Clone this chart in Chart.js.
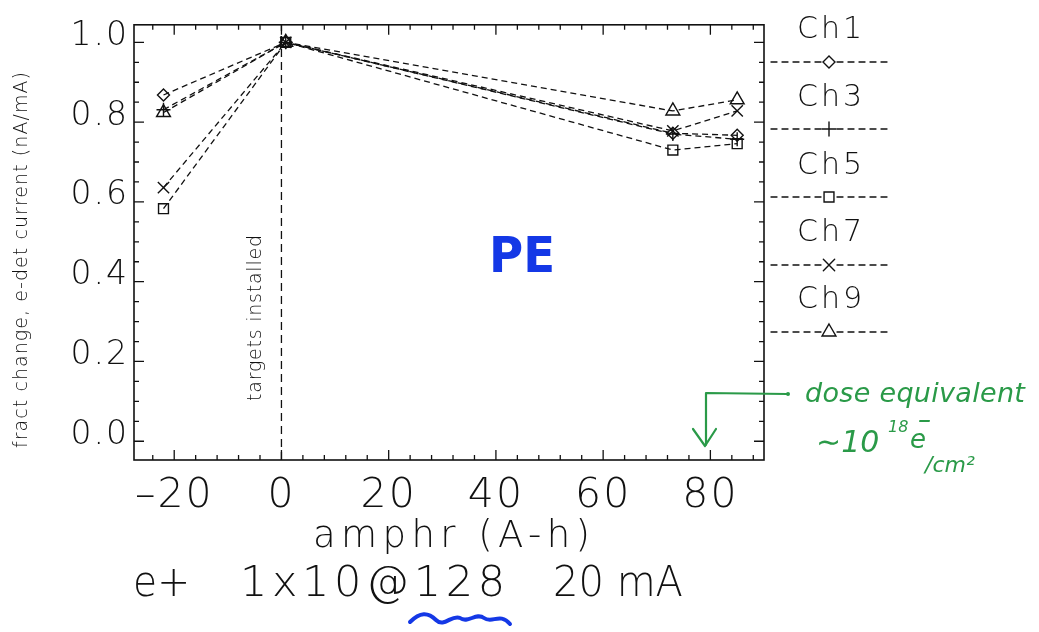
<!DOCTYPE html>
<html>
<head>
<meta charset="utf-8">
<script src="https://cdn.jsdelivr.net/npm/chart.js@4/dist/chart.umd.min.js"></script>
<style>
html,body{margin:0;padding:0;background:#fff;}
#c{display:block;}
</style>
</head>
<body>
<canvas id="c" width="1039" height="632"></canvas>
<script>
// ---- data ----
const amphr = [-22, 0.8, 73, 85];
const ch1 = [0.868, 1.0, 0.772, 0.767];
const ch3 = [0.831, 1.0, 0.770, 0.757];
const ch5 = [0.583, 1.0, 0.730, 0.746];
const ch7 = [0.636, 1.0, 0.778, 0.828];
const ch9 = [0.824, 1.0, 0.828, 0.856];
const seriesNames = ['Ch1', 'Ch3', 'Ch5', 'Ch7', 'Ch9'];
const xTickValues = [-20, 0, 20, 40, 60, 80];
const yTickValues = [0.0, 0.2, 0.4, 0.6, 0.8, 1.0];
const xTitle = 'amphr (A-h)';
const yTitle = 'fract change, e-det current (nA/mA)';
const footer = ['e+', '1x10@128', '20 mA'];
const markerNote = 'targets installed';
const bigNote = 'PE';
const doseNote = 'dose equivalent';

const styles = ['rectRot', 'cross', 'rect', 'crossRot', 'triangle'];
const radii = [6, 7, 7, 8, 8];
const allSeries = [ch1, ch3, ch5, ch7, ch9];
const FONT = "'DejaVu Sans', 'Liberation Sans', sans-serif";

const datasets = allSeries.map((s, i) => ({
  label: seriesNames[i],
  data: amphr.map((x, j) => ({x: x, y: s[j]})),
  borderColor: '#111',
  backgroundColor: 'rgba(0,0,0,0)',
  borderWidth: 1.3,
  borderDash: [6, 4],
  pointStyle: styles[i],
  pointRadius: radii[i],
  pointBorderWidth: 1.4,
  pointBorderColor: '#111',
  pointBackgroundColor: 'rgba(0,0,0,0)',
  tension: 0,
  fill: false
}));

// draw text stretched/compressed to a given width (left x, width)
function fitText(ctx, text, x, y, width) {
  ctx.letterSpacing = '0px';
  const w0 = ctx.measureText(text).width;
  const n = text.length;
  if (w0 < width && n > 1) {
    const ls = (width - w0) / (n - 1);
    ctx.letterSpacing = ls.toFixed(2) + 'px';
    ctx.fillText(text, x, y);
  } else {
    ctx.fillText(text, x, y, width);
  }
  ctx.letterSpacing = '0px';
}

const deco = {
  id: 'deco',
  beforeDraw(chart) {
    const ctx = chart.ctx;
    ctx.save();
    ctx.fillStyle = '#fff';
    ctx.fillRect(0, 0, chart.width, chart.height);
    ctx.restore();
    ctx.letterSpacing = '2px';
  },
  beforeDatasetsDraw(chart) {
    const ctx = chart.ctx;
    const xs = chart.scales.x;
    const a = chart.chartArea;
    ctx.save();
    ctx.letterSpacing = '0px';
    const x0 = xs.getPixelForValue(0);
    ctx.strokeStyle = '#111';
    ctx.lineWidth = 1.3;
    ctx.setLineDash([8, 5]);
    ctx.beginPath();
    ctx.moveTo(x0, a.bottom);
    ctx.lineTo(x0, a.top);
    ctx.stroke();
    ctx.setLineDash([]);
    ctx.restore();
  },
  afterDraw(chart) {
    const ctx = chart.ctx;
    const xs = chart.scales.x, ys = chart.scales.y;
    const a = chart.chartArea;
    ctx.save();
    ctx.letterSpacing = '0px';
    // frame
    ctx.strokeStyle = '#111';
    ctx.lineWidth = 1.6;
    ctx.strokeRect(a.left, a.top, a.right - a.left, a.bottom - a.top);
    // ticks (inward, mirrored)
    ctx.lineWidth = 1.3;
    ctx.beginPath();
    for (let v = -24; v <= 88; v += 4) {
      const p = xs.getPixelForValue(v);
      const len = (v % 20 === 0) ? 10 : 5;
      ctx.moveTo(p, a.bottom); ctx.lineTo(p, a.bottom - len);
      ctx.moveTo(p, a.top); ctx.lineTo(p, a.top + len);
    }
    for (let k = 0; k <= 20; k++) {
      const p = ys.getPixelForValue(k * 0.05);
      const len = (k % 4 === 0) ? 10 : 5;
      ctx.moveTo(a.left, p); ctx.lineTo(a.left + len, p);
      ctx.moveTo(a.right, p); ctx.lineTo(a.right - len, p);
    }
    ctx.stroke();

    // axis titles
    ctx.fillStyle = '#111';
    ctx.textBaseline = 'middle';
    ctx.textAlign = 'left';
    ctx.font = '300 37px ' + FONT;
    fitText(ctx, xTitle, 313, 537, 277);
    ctx.save();
    ctx.translate(22, 260);
    ctx.rotate(-Math.PI / 2);
    ctx.font = '300 19px ' + FONT;
    fitText(ctx, yTitle, -188, 0, 376);
    ctx.restore();

    // footer
    ctx.font = '300 43px ' + FONT;
    fitText(ctx, footer[0], 133, 585, 57);
    fitText(ctx, footer[1], 240, 585, 265);
    fitText(ctx, footer[2], 553, 585, 130);

    // blue squiggle
    ctx.strokeStyle = '#1438e6';
    ctx.lineWidth = 4;
    ctx.lineCap = 'round';
    ctx.beginPath();
    ctx.moveTo(410, 622);
    ctx.bezierCurveTo(420, 612, 428, 612, 436, 620);
    ctx.bezierCurveTo(444, 628, 452, 614, 460, 618);
    ctx.bezierCurveTo(468, 624, 476, 612, 484, 618);
    ctx.bezierCurveTo(492, 624, 500, 612, 510, 624);
    ctx.stroke();

    // targets installed
    ctx.save();
    ctx.fillStyle = '#111';
    ctx.translate(256, 318);
    ctx.rotate(-Math.PI / 2);
    ctx.font = '300 19px ' + FONT;
    fitText(ctx, markerNote, -83, 0, 166);
    ctx.restore();

    // PE
    ctx.fillStyle = '#1438e6';
    ctx.font = 'bold 50px ' + FONT;
    ctx.textAlign = 'left';
    fitText(ctx, bigNote, 489, 259, 66);

    // legend
    ctx.fillStyle = '#111';
    ctx.font = '300 30px ' + FONT;
    const legTextY = [30, 98, 166, 233, 300];
    const legLineY = [62, 129, 197, 265, 332];
    for (let i = 0; i < seriesNames.length; i++) {
      ctx.fillStyle = '#111';
      fitText(ctx, seriesNames[i], 797, legTextY[i], 65);
      ctx.save();
      ctx.strokeStyle = '#111';
      ctx.lineWidth = 1.3;
      ctx.setLineDash([6, 5]);
      ctx.beginPath();
      ctx.moveTo(771, legLineY[i]);
      ctx.lineTo(890, legLineY[i]);
      ctx.stroke();
      ctx.setLineDash([]);
      ctx.fillStyle = '#fff';
      ctx.fillRect(822, legLineY[i] - 4, 14, 8);
      ctx.lineWidth = 1.4;
      Chart.helpers.drawPoint(ctx, {pointStyle: styles[i], radius: radii[i], borderWidth: 1.4}, 829, legLineY[i]);
      ctx.restore();
    }

    // green annotation
    ctx.strokeStyle = '#2a9a48';
    ctx.fillStyle = '#2a9a48';
    ctx.lineWidth = 2.2;
    ctx.lineCap = 'round';
    ctx.lineJoin = 'round';
    ctx.beginPath();
    ctx.moveTo(787, 394);
    ctx.lineTo(706, 393);
    ctx.lineTo(706, 445);
    ctx.moveTo(693, 429);
    ctx.lineTo(705, 446);
    ctx.lineTo(716, 429);
    ctx.stroke();
    ctx.beginPath();
    ctx.arc(788, 394, 2, 0, Math.PI * 2);
    ctx.fill();
    ctx.textAlign = 'left';
    ctx.textBaseline = 'alphabetic';
    ctx.font = 'italic 27px ' + FONT;
    fitText(ctx, doseNote, 805, 402, 220);
    ctx.font = 'italic 30px ' + FONT;
    ctx.fillText('\u223C10', 816, 452);
    ctx.font = 'italic 16px ' + FONT;
    ctx.fillText('18', 888, 432);
    ctx.font = 'italic 26px ' + FONT;
    ctx.fillText('e', 910, 448);
    ctx.fillText('\u2013', 918, 428);
    ctx.font = 'italic 22px ' + FONT;
    ctx.fillText('/cm\u00B2', 925, 472);
    ctx.restore();
    ctx.letterSpacing = '0px';
  }
};

new Chart(document.getElementById('c'), {
  type: 'line',
  data: {datasets: datasets},
  options: {
    responsive: false,
    animation: false,
    devicePixelRatio: 1,
    layout: {padding: {left: 0, right: 275, top: 15, bottom: 0}},
    plugins: {legend: {display: false}, tooltip: {enabled: false}, title: {display: false}},
    scales: {
      x: {
        type: 'linear',
        min: -27.5,
        max: 90,
        afterBuildTicks: s => { s.ticks = xTickValues.map(v => ({value: v})); },
        afterFit: s => { s.height = 172; },
        grid: {display: false, drawTicks: false},
        border: {display: false},
        ticks: {
          color: '#111',
          font: {family: FONT, size: 41, weight: '300'},
          padding: 12,
          maxRotation: 0,
          autoSkip: false,
          callback: v => String(v).replace('-', '\u2013')
        }
      },
      y: {
        type: 'linear',
        min: -0.047,
        max: 1.044,
        afterBuildTicks: s => { s.ticks = yTickValues.map(v => ({value: v})); },
        afterFit: s => { s.width = 134; },
        grid: {display: false, drawTicks: false},
        border: {display: false},
        ticks: {
          color: '#111',
          font: {family: FONT, size: 33, weight: '300'},
          padding: 5,
          labelOffset: -6,
          autoSkip: false,
          callback: v => Number(v).toFixed(1)
        }
      }
    }
  },
  plugins: [deco]
});
</script>
</body>
</html>
